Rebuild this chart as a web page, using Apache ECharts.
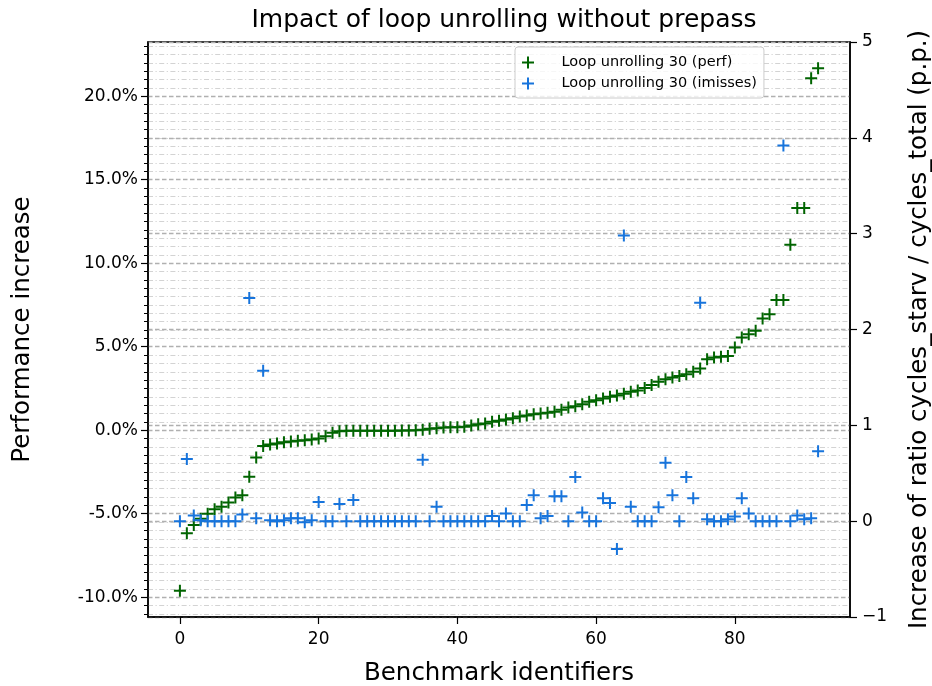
<!DOCTYPE html>
<html><head><meta charset="utf-8">
<script src="https://cdn.jsdelivr.net/npm/echarts@6/dist/echarts.min.js"></script>
<style>html,body{margin:0;padding:0;background:#fff}#c{width:932px;height:686px}</style>
</head><body><div id="c"></div>
<script>
const benchmarkIds = [0,1,2,3,4,5,6,7,8,9,10,11,12,13,14,15,16,17,18,19,20,21,22,23,24,25,26,27,28,29,30,31,32,33,34,35,36,37,38,39,40,41,42,43,44,45,46,47,48,49,50,51,52,53,54,55,56,57,58,59,60,61,62,63,64,65,66,67,68,69,70,71,72,73,74,75,76,77,78,79,80,81,82,83,84,85,86,87,88,89,90,91,92];
const perfIncrease = [
 -9.62, -6.17, -5.67, -5.3, -5.0, -4.73, -4.59, -4.33, -4.03, -3.89,
 -2.79, -1.64, -0.94, -0.86, -0.8, -0.72, -0.67, -0.63, -0.6, -0.56,
 -0.5, -0.36, -0.15, -0.06, -0.04, -0.04, -0.04, -0.03, -0.03, -0.03,
 -0.03, -0.03, -0.02, -0.02, -0.01, 0.02, 0.08, 0.12, 0.16, 0.17,
 0.18, 0.2, 0.28, 0.35, 0.4, 0.5, 0.56, 0.64, 0.72, 0.82,
 0.88, 0.95, 1.0, 1.05, 1.1, 1.22, 1.36, 1.44, 1.56, 1.7,
 1.8, 1.9, 2.0, 2.08, 2.18, 2.3, 2.38, 2.52, 2.7, 2.9,
 3.05, 3.15, 3.25, 3.35, 3.5, 3.7, 4.25, 4.35, 4.4, 4.45,
 4.95, 5.55, 5.75, 5.95, 6.69, 6.95, 7.8, 7.8, 11.1, 13.3,
 13.3, 21.08, 21.68];
const imissesIncrease = [
 0.0, 0.65, 0.06, 0.01, 0.0, 0.0, 0.0, 0.0, 0.0, 0.07,
 2.33, 0.03, 1.57, 0.01, 0.0, 0.01, 0.03, 0.03, -0.01, 0.01,
 0.2, 0.0, 0.0, 0.18, 0.0, 0.22, 0.0, 0.0, 0.0, 0.0,
 0.0, 0.0, 0.0, 0.0, 0.0, 0.64, 0.0, 0.15, 0.0, 0.0,
 0.0, 0.0, 0.0, 0.0, 0.0, 0.055, 0.0, 0.08, 0.0, 0.0,
 0.17, 0.27, 0.03, 0.055, 0.26, 0.26, 0.0, 0.46, 0.09, 0.0,
 0.0, 0.24, 0.19, -0.29, 2.98, 0.15, 0.0, 0.0, 0.0, 0.145,
 0.61, 0.27, 0.0, 0.46, 0.24, 2.28, 0.02, 0.0, 0.0, 0.02,
 0.05, 0.24, 0.08, 0.0, 0.0, 0.0, 0.0, 3.92, 0.0, 0.06,
 0.02, 0.03, 0.73];
const xTicks = [0, 20, 40, 60, 80];
const leftTicks = [-10, -5, 0, 5, 10, 15, 20];
const rightTicks = [-1, 0, 1, 2, 3, 4, 5];
const seriesNames = ['Loop unrolling 30 (perf)', 'Loop unrolling 30 (imisses)'];

const FONT = 'DejaVu Sans';
const plus = 'path://M5,0H7V5H12V7H7V12H5V7H0V5H5Z';
const green = '#006400';
const blue = '#1774dc';

const chart = echarts.init(document.getElementById('c'), null, {renderer: 'canvas'});
const majorGrid = {show: true, lineStyle: {color: '#b0b0b0', width: 1.3, type: [4.5, 2.5]}};
chart.setOption({
  animation: false,
  backgroundColor: '#fff',
  title: {
    text: 'Impact of loop unrolling without prepass',
    left: 499, top: 3, textAlign: 'center',
    textStyle: {fontFamily: FONT, fontSize: 25, fontWeight: 'normal', color: '#000'}
  },
  grid: {left: 148, right: 82, top: 42, bottom: 69, containLabel: false, outerBoundsMode: 'none',
    show: true, borderColor: '#000', borderWidth: 1.5, backgroundColor: 'transparent'},
  legend: {
    left: 515, top: 47, orient: 'vertical',
    data: seriesNames.map(n => ({name: n, icon: plus})),
    formatter: n => '    ' + n,
    itemWidth: 20, itemHeight: 12, itemGap: 6,
    padding: [8, 7, 7, 7],
    backgroundColor: 'rgba(255,255,255,0.8)', borderColor: '#cccccc', borderWidth: 1, borderRadius: 3,
    textStyle: {fontFamily: FONT, fontSize: 14.5, color: '#000'}
  },
  xAxis: {
    type: 'value', min: -4.6, max: 96.6,
    name: 'Benchmark identifiers', nameLocation: 'middle', nameGap: 44,
    nameTextStyle: {fontFamily: FONT, fontSize: 24.5, color: '#000'},
    axisLine: {show: true, onZero: false, lineStyle: {color: '#000', width: 1.5}},
    axisTick: {show: true, length: 7, customValues: xTicks, lineStyle: {color: '#000', width: 1.2}},
    axisLabel: {customValues: xTicks, fontFamily: FONT, fontSize: 17, color: '#000', margin: 14},
    splitLine: {show: false}
  },
  yAxis: [{
    type: 'value', position: 'left', min: -11.185, max: 23.245, splitNumber: 7,
    name: 'Performance increase', nameLocation: 'middle', nameGap: 113, nameRotate: 90,
    nameTextStyle: {fontFamily: FONT, fontSize: 24.5, color: '#000'},
    axisLine: {show: true, onZero: false, lineStyle: {color: '#000', width: 1.5}},
    axisTick: {show: true, length: 7, customValues: leftTicks, lineStyle: {color: '#000', width: 1.2}},
    minorTick: {show: true, splitNumber: 10, length: 4, lineStyle: {color: '#000', width: 1}},
    axisLabel: {customValues: leftTicks, fontFamily: FONT, fontSize: 17, color: '#000', margin: 10,
      formatter: v => v.toFixed(1) + '%'},
    splitLine: majorGrid,
    minorSplitLine: {show: true, lineStyle: {color: '#d3d3d3', width: 1.1, type: [5, 2.5, 1.2, 2.5]}}
  }, {
    type: 'value', position: 'right', min: -1, max: 5, interval: 1,
    name: 'Increase of ratio cycles_starv / cycles_total (p.p.)', nameLocation: 'middle', nameGap: 57, nameRotate: 90,
    nameTextStyle: {fontFamily: FONT, fontSize: 24.5, color: '#000'},
    axisLine: {show: true, onZero: false, lineStyle: {color: '#000', width: 1.5}},
    axisTick: {show: true, length: 7, lineStyle: {color: '#000', width: 1.2}},
    axisLabel: {fontFamily: FONT, fontSize: 17, color: '#000', margin: 12,
      formatter: v => (v < 0 ? '\u2212' + (-v) : String(v))},
    splitLine: majorGrid
  }],
  series: [{
    name: seriesNames[0], type: 'scatter', yAxisIndex: 0,
    symbol: plus, symbolSize: 12, itemStyle: {color: green, opacity: 1},
    data: benchmarkIds.map((id, i) => [id, perfIncrease[i]])
  }, {
    name: seriesNames[1], type: 'scatter', yAxisIndex: 1,
    symbol: plus, symbolSize: 12, itemStyle: {color: blue, opacity: 1},
    data: benchmarkIds.map((id, i) => [id, imissesIncrease[i]])
  }]
});
</script></body></html>
